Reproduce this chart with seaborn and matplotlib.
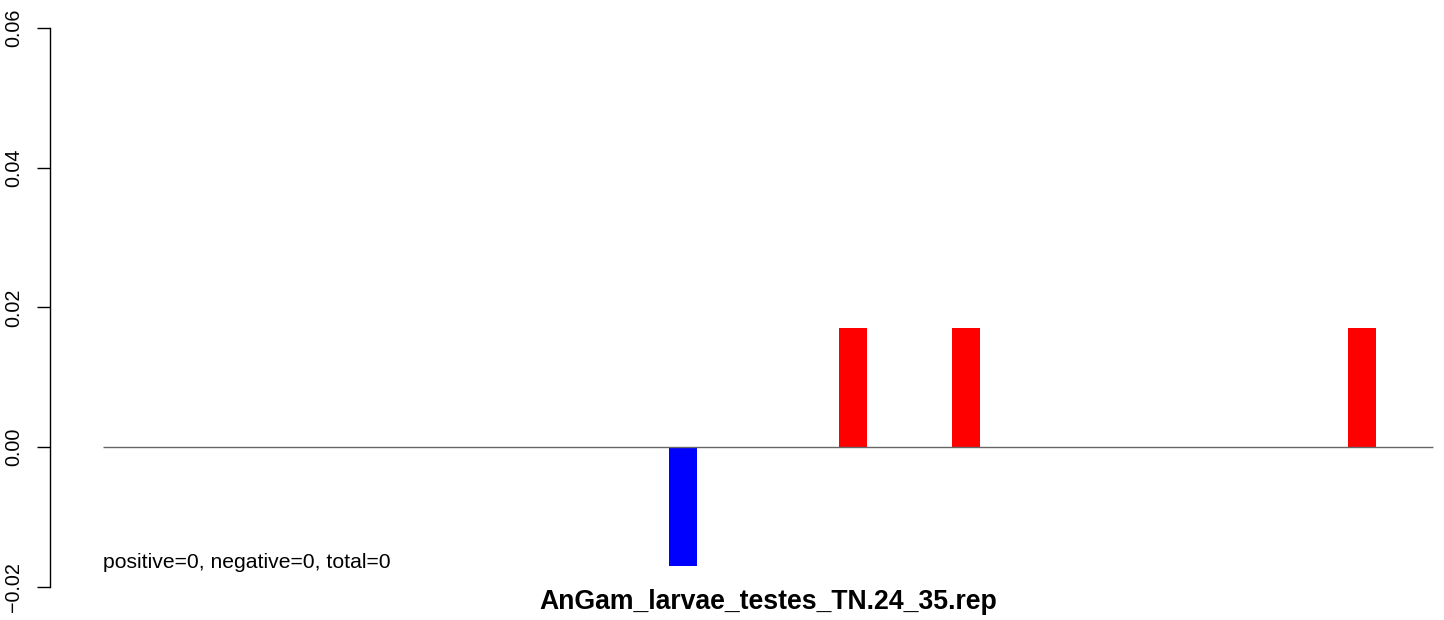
import matplotlib
matplotlib.use("Agg")
import matplotlib.pyplot as plt
import seaborn as sns
import pandas as pd

# ---- data ----
positions = list(range(1, 48))
values = [0, 0, 0, 0, 0, 0, 0, 0, 0, 0,
          0, 0, 0, 0, 0, 0, 0, 0, 0, 0,
          -0.017, 0, 0, 0, 0, 0, 0.017, 0, 0, 0,
          0.017, 0, 0, 0, 0, 0, 0, 0, 0, 0,
          0, 0, 0, 0, 0.017, 0, 0]
y_ticks = [-0.02, 0.00, 0.02, 0.04, 0.06]
y_tick_labels = ["\u22120.02", "0.00", "0.02", "0.04", "0.06"]
title = "AnGam_larvae_testes_TN.24_35.rep"
note = "positive=0, negative=0, total=0"

sns.set_theme(style="white")
plt.rcParams["font.family"] = ["Liberation Sans", "DejaVu Sans"]

df = pd.DataFrame({"pos": positions, "val": values})
colors = ["#FF0000" if v > 0 else "#0000FF" for v in values]

fig = plt.figure(figsize=(14.44, 6.2), dpi=100)
ax = fig.add_axes([50 / 1444, 0, 1394 / 1444, 1])

sns.barplot(data=df, x="pos", y="val", hue="pos", palette=colors,
            width=1.0, legend=False, linewidth=0, saturation=1, ax=ax)

n = len(positions)
ax.hlines(0, -0.5, n - 0.5, color="#666666", linewidth=1.0, zorder=3)

ax.set_xlim(-2.3735, 46.90)
ax.set_ylim(-0.024758, 0.064007)

for s in ["top", "right", "bottom"]:
    ax.spines[s].set_visible(False)
ax.spines["left"].set_bounds(-0.02, 0.06)
ax.spines["left"].set_color("black")
ax.spines["left"].set_linewidth(1.0)

ax.set_xticks([])
ax.set_yticks(y_ticks)
ax.set_yticklabels(y_tick_labels, rotation=90, va="center")
ax.tick_params(axis="y", left=True, length=9.4, width=1.0, color="black",
               pad=10, labelsize=14.2, labelcolor="black")
ax.set_xlabel("")
ax.set_ylabel("")

ax.text(-0.5, -0.01732, note, ha="left", va="baseline", fontsize=15.2,
        color="black")
ax.text(23.0, -0.023184, title, ha="center", va="baseline", fontsize=19.15,
        fontweight="bold", color="black", clip_on=False)

fig.savefig("out.png", dpi=100)
